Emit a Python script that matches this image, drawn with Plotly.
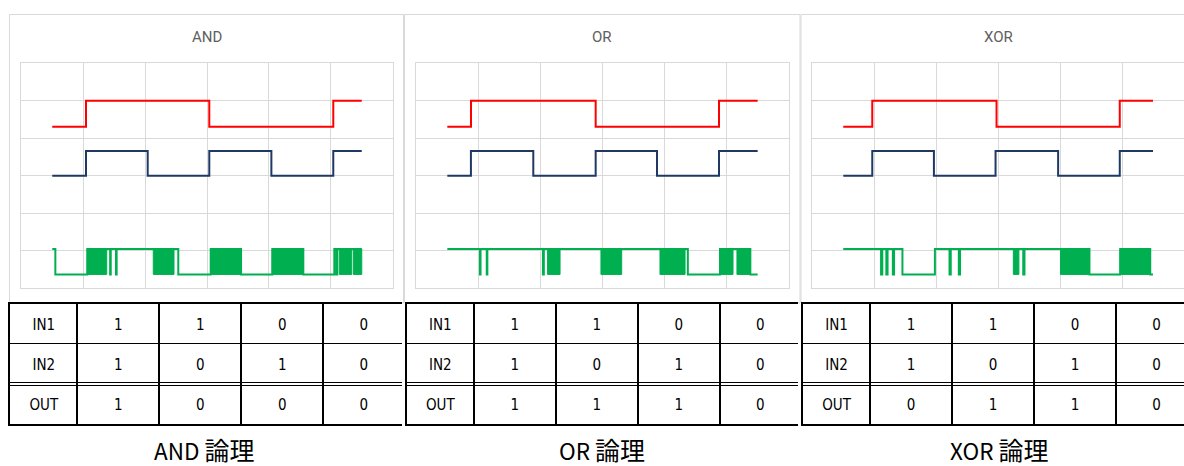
import plotly.graph_objects as go

W, H = 1184, 466

# ---------------- data ----------------
gates = ["AND", "OR", "XOR"]
captions = ["AND 論理", "OR 論理", "XOR 論理"]

t_start, t_end = 50.0, 550.0

# signal levels (chart units)
in1_levels = (4.31, 5.0)
in2_levels = (3.0, 3.66)
out_levels = (0.37, 1.05)

# edge times
and_in1_edges = [104.5, 303.7, 504.0]
and_in2_edges = [104.5, 204.2, 303.7, 404.0, 504.0]
and_out_start = 1
and_out_edges = [55.0, 106.6, 143.5, 144.5, 153.0, 154.0, 253.6, 306.0, 355.0,
                 405.5, 455.6, 505.7, 509.0, 510.5]
and_out_bursts = [(106.6, 138.0), (213.2, 246.7), (306.0, 355.0), (405.5, 455.6),
                  (513.7, 533.7), (536.3, 550.0)]

or_in1_edges = [88.1, 289.0, 487.7]
or_in2_edges = [88.0, 188.5, 289.0, 387.8, 487.7]
or_out_start = 1
or_out_edges = [102.5, 103.5, 113.5, 114.5, 204.0, 205.5, 437.5, 489.3, 538.2]
or_out_bursts = [(211.5, 231.6), (297.5, 330.9), (392.6, 433.0), (489.3, 510.3),
                 (516.6, 538.2)]

xor_in1_edges = [96.8, 297.4, 496.3]
xor_in2_edges = [96.8, 196.3, 295.8, 396.8, 496.3]
xor_out_start = 1
xor_out_edges = [111.0, 113.0, 119.5, 121.5, 130.0, 132.0, 145.5, 197.9, 221.5,
                 223.5, 236.5, 238.5, 340.5, 342.5, 447.4, 497.0, 545.5]
xor_out_bursts = [(324.5, 333.5), (400.6, 447.4), (497.0, 545.5)]

# truth tables
row_labels = ["IN1", "IN2", "OUT"]
in1_truth = [1, 1, 0, 0]
in2_truth = [1, 0, 1, 0]
and_truth = [1, 0, 0, 0]
or_truth = [1, 1, 1, 0]
xor_truth = [0, 1, 1, 0]

# ---------------- style ----------------
RED = "#FF0000"
NAVY = "#1F3864"
GREEN = "#00B050"
GRID = "#D9D9D9"

plot_x = [(21.3, 392.7), (416.3, 788.7), (812.3, 1184.0)]
plot_y = (63.3, 288.3)
frame_x = [(9.5, 403.5), (404.5, 800.0), (801.0, 1195.0)]
table_x = [(10.3, 402.3), (406.8, 798.3), (803.0, 1184.0)]
table_y = (304.0, 423.5)
col_w = [67, 82, 82, 82, 81]
text_drop = 0.07  # cell text sits slightly below the row centre
title_cx = [207, 602, 998]
caption_cx = [204, 602, 999]

sig = {
    "AND": (and_in1_edges, and_in2_edges, and_out_start, and_out_edges, and_out_bursts, and_truth),
    "OR": (or_in1_edges, or_in2_edges, or_out_start, or_out_edges, or_out_bursts, or_truth),
    "XOR": (xor_in1_edges, xor_in2_edges, xor_out_start, xor_out_edges, xor_out_bursts, xor_truth),
}


def step(edges, start_level, levels):
    xs = [t_start] + list(edges) + [t_end]
    lv = start_level
    ys = []
    for _ in range(len(edges) + 1):
        ys.append(levels[1] if lv else levels[0])
        lv = 1 - lv
    ys.append(ys[-1])
    return xs, ys


def bursts_xy(bursts, levels):
    xs, ys = [], []
    for s, e in bursts:
        xs += [s, s, e, e, s, None]
        ys += [levels[0], levels[1], levels[1], levels[0], levels[0], None]
    return xs, ys


fig = go.Figure()
layout_axes = {}
shapes = []
annotations = []

cell_font = dict(family="Liberation Sans Narrow, DejaVu Sans Condensed, sans-serif",
                 size=15, color="black")

# column boundaries / centers of the truth tables (table units)
col_edges = [0]
for w in col_w:
    col_edges.append(col_edges[-1] + w)
col_centers = [(col_edges[k] + col_edges[k + 1]) / 2 for k in range(len(col_w))]
n_rows = len(row_labels)

for i, g in enumerate(gates):
    in1_e, in2_e, o_start, o_e, o_b, truth = sig[g]
    xa = "x" if i == 0 else f"x{i+1}"
    ya = "y" if i == 0 else f"y{i+1}"

    x, y = step(in1_e, 0, in1_levels)
    fig.add_trace(go.Scatter(x=x, y=y, mode="lines", line=dict(color=RED, width=2, shape="hv"),
                             xaxis=xa, yaxis=ya, hoverinfo="skip"))
    x, y = step(in2_e, 0, in2_levels)
    fig.add_trace(go.Scatter(x=x, y=y, mode="lines", line=dict(color=NAVY, width=2, shape="hv"),
                             xaxis=xa, yaxis=ya, hoverinfo="skip"))
    x, y = step(o_e, o_start, out_levels)
    fig.add_trace(go.Scatter(x=x, y=y, mode="lines", line=dict(color=GREEN, width=2, shape="hv"),
                             xaxis=xa, yaxis=ya, hoverinfo="skip"))
    x, y = bursts_xy(o_b, out_levels)
    fig.add_trace(go.Scatter(x=x, y=y, mode="lines", fill="toself", fillcolor=GREEN,
                             line=dict(color=GREEN, width=1), xaxis=xa, yaxis=ya, hoverinfo="skip"))

    sfx = "" if i == 0 else str(i + 1)
    layout_axes["xaxis" + sfx] = dict(
        domain=[plot_x[i][0] / W, plot_x[i][1] / W], range=[0, 600], dtick=100,
        showgrid=True, gridcolor=GRID, gridwidth=1, zeroline=False,
        showticklabels=False, ticks="", showline=True, mirror=True, linecolor=GRID,
        linewidth=1, anchor=ya, fixedrange=True)
    layout_axes["yaxis" + sfx] = dict(
        domain=[1 - plot_y[1] / H, 1 - plot_y[0] / H], range=[0, 6], dtick=1,
        showgrid=True, gridcolor=GRID, gridwidth=1, zeroline=False,
        showticklabels=False, ticks="", showline=True, mirror=True, linecolor=GRID,
        linewidth=1, anchor=xa, fixedrange=True)

    # chart frame
    shapes.append(dict(type="rect", xref="paper", yref="paper",
                       x0=frame_x[i][0] / W, x1=frame_x[i][1] / W,
                       y0=1 - 303 / H, y1=1 - 14.5 / H,
                       line=dict(color=GRID, width=1), fillcolor="rgba(0,0,0,0)", layer="below"))
    # chart title
    annotations.append(dict(text=g, x=title_cx[i] / W, y=1 - 36.7 / H, xref="paper", yref="paper",
                            xanchor="center", yanchor="middle", showarrow=False,
                            font=dict(family="Roboto, sans-serif", size=15, color="#606060")))
    # caption
    cap_latin, cap_cjk = captions[i].split(" ")
    annotations.append(dict(text=cap_latin + ' <span style="font-size:25px">' + cap_cjk + "</span>",
                            x=caption_cx[i] / W, y=1 - 449 / H, xref="paper", yref="paper",
                            xanchor="center", yanchor="middle", showarrow=False,
                            font=dict(family="Noto Sans CJK JP, sans-serif", size=22.5, color="black")))

    # ---- truth table on its own axes ----
    txa = f"x{i+4}"
    tya = f"y{i+4}"
    rows = [
        [row_labels[0]] + [str(v) for v in in1_truth],
        [row_labels[1]] + [str(v) for v in in2_truth],
        [row_labels[2]] + [str(v) for v in truth],
    ]
    tx, ty, tt = [], [], []
    for r, row in enumerate(rows):
        for c, val in enumerate(row):
            tx.append(col_centers[c])
            ty.append(n_rows - r - 0.5 - text_drop)
            tt.append(val)
    fig.add_trace(go.Scatter(x=tx, y=ty, text=tt, mode="text", textposition="middle center",
                             textfont=cell_font, xaxis=txa, yaxis=tya, hoverinfo="skip",
                             cliponaxis=False))
    x_end = min(col_edges[-1], table_x[i][1] - table_x[i][0])
    layout_axes[f"xaxis{i+4}"] = dict(
        domain=[table_x[i][0] / W, table_x[i][1] / W], range=[0, x_end],
        tickvals=col_edges[1:-1], showgrid=True, gridcolor="black", gridwidth=1.8,
        zeroline=False, showticklabels=False, ticks="", showline=True, mirror=True,
        linecolor="black", linewidth=2, anchor=tya, fixedrange=True)
    layout_axes[f"yaxis{i+4}"] = dict(
        domain=[1 - table_y[1] / H, 1 - table_y[0] / H], range=[0, n_rows],
        tickvals=[0.965, 1.035, 2], showgrid=True, gridcolor="black", gridwidth=1.3,
        zeroline=False, showticklabels=False, ticks="", showline=True,
        mirror=(x_end >= col_edges[-1]),
        linecolor="black", linewidth=1.6, anchor=txa, fixedrange=True)

fig.update_layout(
    width=W, height=H, margin=dict(l=0, r=0, t=0, b=0, pad=0),
    paper_bgcolor="white", plot_bgcolor="white", showlegend=False,
    shapes=shapes, annotations=annotations, **layout_axes,
)

fig.write_html("out.html", config={"displayModeBar": False})
